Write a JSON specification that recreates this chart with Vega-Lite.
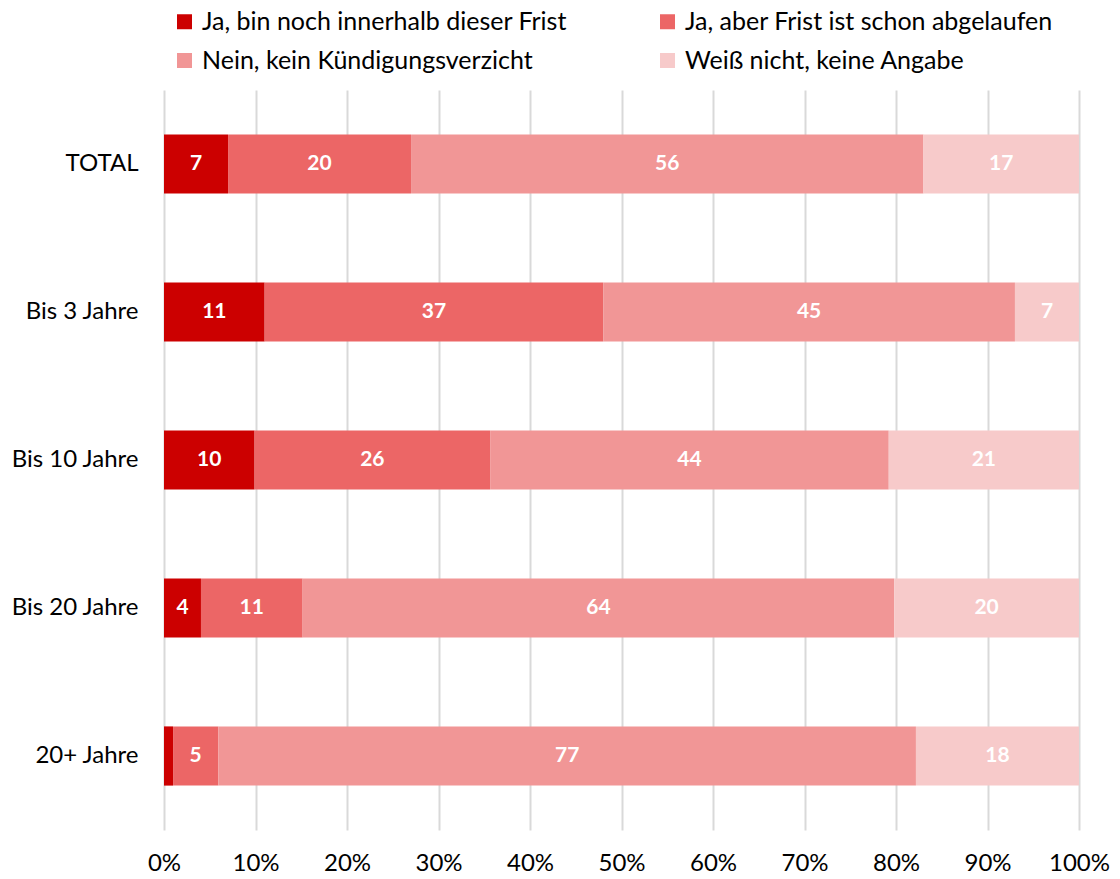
{
  "$schema": "https://vega.github.io/schema/vega-lite/v6.json",
  "width": 915,
  "height": 740,
  "autosize": "none",
  "padding": {"left": 164, "top": 90, "right": 41, "bottom": 49},
  "config": {"font": "Lato", "view": {"stroke": null}},
  "data": {
    "values": [
      {"group": "TOTAL", "cat": "Ja, bin noch innerhalb dieser Frist", "k": 1, "v": 7},
      {"group": "TOTAL", "cat": "Ja, aber Frist ist schon abgelaufen", "k": 2, "v": 20},
      {"group": "TOTAL", "cat": "Nein, kein Kündigungsverzicht", "k": 3, "v": 56},
      {"group": "TOTAL", "cat": "Weiß nicht, keine Angabe", "k": 4, "v": 17},
      {"group": "Bis 3 Jahre", "cat": "Ja, bin noch innerhalb dieser Frist", "k": 1, "v": 11},
      {"group": "Bis 3 Jahre", "cat": "Ja, aber Frist ist schon abgelaufen", "k": 2, "v": 37},
      {"group": "Bis 3 Jahre", "cat": "Nein, kein Kündigungsverzicht", "k": 3, "v": 45},
      {"group": "Bis 3 Jahre", "cat": "Weiß nicht, keine Angabe", "k": 4, "v": 7},
      {"group": "Bis 10 Jahre", "cat": "Ja, bin noch innerhalb dieser Frist", "k": 1, "v": 10},
      {"group": "Bis 10 Jahre", "cat": "Ja, aber Frist ist schon abgelaufen", "k": 2, "v": 26},
      {"group": "Bis 10 Jahre", "cat": "Nein, kein Kündigungsverzicht", "k": 3, "v": 44},
      {"group": "Bis 10 Jahre", "cat": "Weiß nicht, keine Angabe", "k": 4, "v": 21},
      {"group": "Bis 20 Jahre", "cat": "Ja, bin noch innerhalb dieser Frist", "k": 1, "v": 4},
      {"group": "Bis 20 Jahre", "cat": "Ja, aber Frist ist schon abgelaufen", "k": 2, "v": 11},
      {"group": "Bis 20 Jahre", "cat": "Nein, kein Kündigungsverzicht", "k": 3, "v": 64},
      {"group": "Bis 20 Jahre", "cat": "Weiß nicht, keine Angabe", "k": 4, "v": 20},
      {"group": "20+ Jahre", "cat": "Ja, bin noch innerhalb dieser Frist", "k": 1, "v": 1},
      {"group": "20+ Jahre", "cat": "Ja, aber Frist ist schon abgelaufen", "k": 2, "v": 5},
      {"group": "20+ Jahre", "cat": "Nein, kein Kündigungsverzicht", "k": 3, "v": 77},
      {"group": "20+ Jahre", "cat": "Weiß nicht, keine Angabe", "k": 4, "v": 18}
    ]
  },
  "encoding": {
    "y": {
      "field": "group",
      "type": "nominal",
      "sort": ["TOTAL", "Bis 3 Jahre", "Bis 10 Jahre", "Bis 20 Jahre", "20+ Jahre"],
      "scale": {"paddingInner": 0.6, "paddingOuter": 0.3},
      "axis": {"title": null, "domain": false, "ticks": false, "labelFontSize": 24, "labelColor": "#000000", "labelPadding": 26}
    }
  },
  "layer": [
    {
      "mark": {"type": "bar"},
      "encoding": {
        "x": {
          "field": "v",
          "type": "quantitative",
          "stack": "normalize",
          "scale": {"domain": [0, 1]},
          "axis": {
            "title": null,
            "values": [0, 0.1, 0.2, 0.3, 0.4, 0.5, 0.6, 0.7, 0.8, 0.9, 1],
            "format": ".0%",
            "domain": false,
            "ticks": false,
            "grid": true,
            "gridColor": "#d9d9d9",
            "gridWidth": 2,
            "labelFontSize": 24,
            "labelColor": "#000000",
            "labelPadding": 21,
            "labelFlush": false
          }
        },
        "color": {
          "field": "cat",
          "type": "nominal",
          "scale": {
            "domain": ["Ja, bin noch innerhalb dieser Frist", "Ja, aber Frist ist schon abgelaufen", "Nein, kein Kündigungsverzicht", "Weiß nicht, keine Angabe"],
            "range": ["#CC0000", "#EC6666", "#F19696", "#F7CACA"]
          },
          "legend": {
            "title": null,
            "orient": "none",
            "direction": "horizontal",
            "legendX": 8,
            "legendY": -81,
            "columns": 2,
            "columnPadding": 88,
            "rowPadding": 13,
            "symbolType": "square",
            "symbolSize": 225,
            "symbolStrokeWidth": 0,
            "labelFontSize": 25,
            "labelColor": "#000000",
            "labelOffset": 5,
            "labelLimit": 600
          }
        },
        "order": {"field": "k", "type": "quantitative"}
      }
    },
    {
      "mark": {"type": "text", "color": "white", "fontWeight": "bold", "fontSize": 21, "baseline": "middle"},
      "encoding": {
        "x": {"field": "v", "type": "quantitative", "stack": "normalize", "bandPosition": 0.5},
        "detail": {"field": "cat"},
        "order": {"field": "k", "type": "quantitative"},
        "text": {"field": "v", "type": "quantitative"},
        "opacity": {"condition": {"test": "datum.v < 2", "value": 0}, "value": 1}
      }
    }
  ]
}
